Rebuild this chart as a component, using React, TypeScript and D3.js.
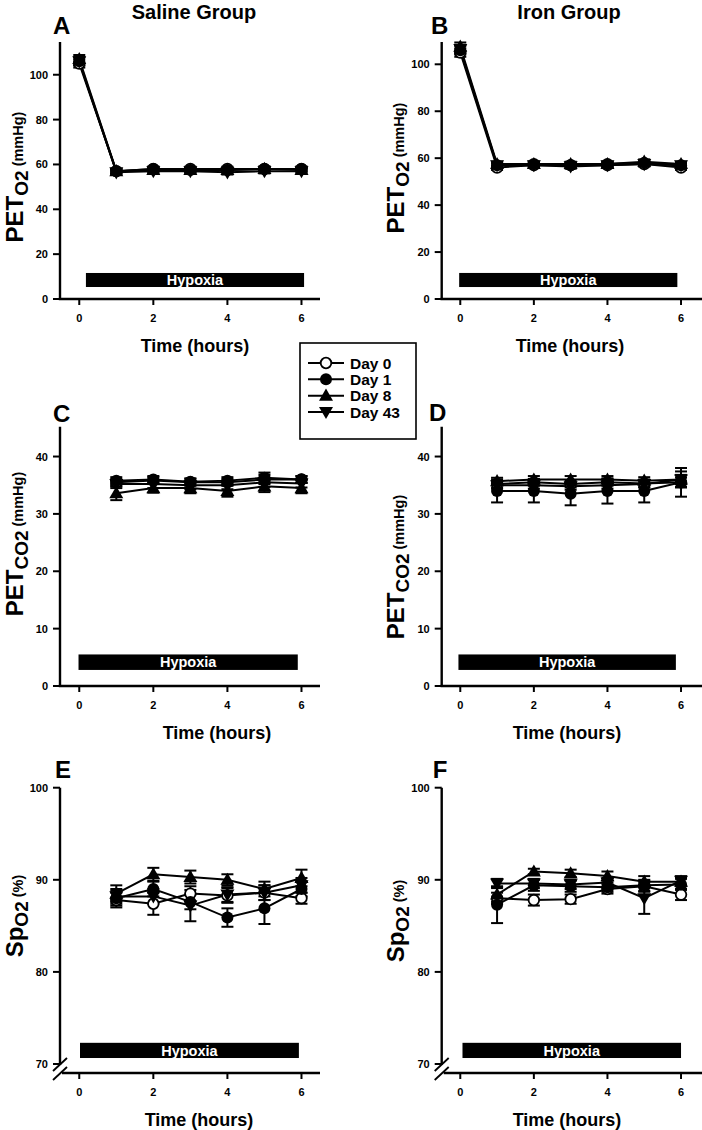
import React from 'react';
import * as d3 from 'd3';

// ---------- DATA ----------
const seriesNames = ['Day 0', 'Day 1', 'Day 8', 'Day 43'];
const timesBaseline = [0, 1, 2, 3, 4, 5, 6];
const timesHypoxia = [1, 2, 3, 4, 5, 6];
const xTicks = [0, 2, 4, 6];

// A: Saline PETO2
const salineO2Day0 = [105, 57, 58, 58, 58, 58, 58];
const salineO2Day1 = [106, 57, 58, 57.5, 57.5, 58, 58];
const salineO2Day8 = [107, 57, 57.5, 57.5, 57.5, 58, 57.5];
const salineO2Day43 = [106, 56.5, 57, 57, 56.5, 57, 57];
const salineO2Err = [1.8, 1, 1, 1, 1, 1, 1];

// B: Iron PETO2
const ironO2Day0 = [105, 56, 57, 57, 57, 57.5, 56];
const ironO2Day1 = [106, 57, 57.5, 57, 57.5, 58, 57];
const ironO2Day8 = [107.5, 57.5, 57.5, 57.5, 57.5, 58.5, 57.5];
const ironO2Day43 = [106.5, 57, 57, 56.5, 57, 57.5, 57];
const ironO2Err = [1.8, 1, 1, 1, 1, 1, 1];

// C: Saline PETCO2
const salineCO2Day0 = [35.5, 35.8, 35.5, 35.5, 36.0, 36.0];
const salineCO2Day1 = [35.8, 36.0, 35.6, 35.8, 36.3, 36.0];
const salineCO2Day8 = [33.6, 34.5, 34.5, 34.0, 34.8, 34.5];
const salineCO2Day43 = [35.2, 35.2, 35.0, 35.0, 35.5, 35.3];
const salineCO2Err0 = [0.6, 0.6, 0.6, 0.6, 0.8, 0.6];
const salineCO2Err1 = [0.6, 0.6, 0.6, 0.6, 0.9, 0.6];
const salineCO2Err8 = [1.2, 0.8, 0.9, 1.0, 1.0, 0.9];
const salineCO2Err43 = [0.7, 0.7, 0.7, 0.7, 0.8, 0.7];

// D: Iron PETCO2
const ironCO2Day0 = [35.2, 35.5, 35.2, 35.5, 35.3, 35.5];
const ironCO2Day1 = [34.0, 34.0, 33.5, 34.0, 34.0, 35.5];
const ironCO2Day8 = [35.7, 36.0, 36.0, 36.0, 35.8, 36.0];
const ironCO2Day43 = [35.0, 35.0, 34.8, 35.0, 35.2, 36.0];
const ironCO2Err0 = [0.6, 0.6, 0.6, 0.6, 0.6, 0.8];
const ironCO2Err1 = [2.0, 2.0, 2.0, 2.2, 2.0, 2.5];
const ironCO2Err8 = [0.6, 0.6, 0.6, 0.6, 0.6, 0.8];
const ironCO2Err43 = [0.6, 0.6, 0.6, 0.6, 0.6, 1.4];

// E: Saline SpO2
const salineSpDay0 = [87.8, 87.4, 88.5, 88.3, 88.6, 88.0];
const salineSpDay1 = [88.0, 89.0, 87.6, 85.9, 86.9, 89.0];
const salineSpDay8 = [88.5, 90.6, 90.3, 90.0, 89.0, 90.2];
const salineSpDay43 = [88.2, 88.2, 87.2, 88.4, 88.6, 89.4];
const salineSpErr0 = [0.8, 1.2, 0.8, 0.8, 0.8, 0.6];
const salineSpErr1 = [0.8, 0.8, 0.8, 1.0, 1.7, 0.8];
const salineSpErr8 = [0.9, 0.7, 0.7, 0.6, 0.8, 0.9];
const salineSpErr43 = [0.8, 0.8, 1.7, 0.8, 0.8, 0.8];

// F: Iron SpO2
const ironSpDay0 = [88.0, 87.8, 87.9, 89.0, 89.3, 88.4];
const ironSpDay1 = [87.3, 89.4, 89.3, 89.2, 89.4, 89.5];
const ironSpDay8 = [88.4, 90.9, 90.7, 90.4, 89.8, 89.8];
const ironSpDay43 = [89.6, 89.6, 89.5, 89.7, 88.0, 89.9];
const ironSpErr0 = [0.6, 0.6, 0.5, 0.5, 0.6, 0.6];
const ironSpErr1 = [2.0, 0.6, 0.6, 0.5, 0.6, 0.6];
const ironSpErr8 = [0.8, 0.3, 0.4, 0.5, 0.6, 0.5];
const ironSpErr43 = [0.5, 0.5, 0.5, 0.5, 1.7, 0.5];

const yTicksO2 = [0, 20, 40, 60, 80, 100];
const yTicksCO2 = [0, 10, 20, 30, 40];
const yTicksSp = [70, 80, 90, 100];

// ---------- LAYOUT ----------
const FONT = "'Liberation Sans', Arial, Helvetica, sans-serif";
const LEFT = { xDomain: [-0.52, 6.5], xRange: [60, 320], ylabX: 23 };
const RIGHT = { xDomain: [-0.505, 6.57], xRange: [441.7, 702], ylabX: 404 };

type Series = { values: number[]; err: number[] };

const panels = [
  {
    id: 'A', side: LEFT, title: 'Saline Group', titleX: 194,
    times: timesBaseline,
    series: [
      { values: salineO2Day0, err: salineO2Err },
      { values: salineO2Day1, err: salineO2Err },
      { values: salineO2Day8, err: salineO2Err },
      { values: salineO2Day43, err: salineO2Err },
    ],
    yDomain: [0, 114.6], yRange: [299, 42], yTicks: yTicksO2, xAxisY: 299,
    ylab: ['PET', 'O2', ' (mmHg)'], ylabY: 177, letterX: 53, letterY: 34, xlabX: 195,
    hyp: [0.18, 6.07, 5.35, 11.6], brk: false,
  },
  {
    id: 'B', side: RIGHT, title: 'Iron Group', titleX: 569,
    times: timesBaseline,
    series: [
      { values: ironO2Day0, err: ironO2Err },
      { values: ironO2Day1, err: ironO2Err },
      { values: ironO2Day8, err: ironO2Err },
      { values: ironO2Day43, err: ironO2Err },
    ],
    yDomain: [0, 109.5], yRange: [299, 42], yTicks: yTicksO2, xAxisY: 299,
    ylab: ['PET', 'O2', ' (mmHg)'], ylabY: 168, letterX: 431, letterY: 34, xlabX: 570,
    hyp: [-0.03, 5.9, 5.1, 11.1], brk: false,
  },
  {
    id: 'C', side: LEFT, title: '', titleX: 0,
    times: timesHypoxia,
    series: [
      { values: salineCO2Day0, err: salineCO2Err0 },
      { values: salineCO2Day1, err: salineCO2Err1 },
      { values: salineCO2Day8, err: salineCO2Err8 },
      { values: salineCO2Day43, err: salineCO2Err43 },
    ],
    yDomain: [0, 45.2], yRange: [686, 426.7], yTicks: yTicksCO2, xAxisY: 686,
    ylab: ['PET', 'CO2', ' (mmHg)'], ylabY: 544, letterX: 53, letterY: 422, xlabX: 217,
    hyp: [-0.02, 5.9, 2.8, 5.5], brk: false,
  },
  {
    id: 'D', side: RIGHT, title: '', titleX: 0,
    times: timesHypoxia,
    series: [
      { values: ironCO2Day0, err: ironCO2Err0 },
      { values: ironCO2Day1, err: ironCO2Err1 },
      { values: ironCO2Day8, err: ironCO2Err8 },
      { values: ironCO2Day43, err: ironCO2Err43 },
    ],
    yDomain: [0, 45.2], yRange: [686, 426.7], yTicks: yTicksCO2, xAxisY: 686,
    ylab: ['PET', 'CO2', ' (mmHg)'], ylabY: 567, letterX: 429, letterY: 421, xlabX: 567,
    hyp: [-0.05, 5.86, 2.8, 5.5], brk: false,
  },
  {
    id: 'E', side: LEFT, title: '', titleX: 0,
    times: timesHypoxia,
    series: [
      { values: salineSpDay0, err: salineSpErr0 },
      { values: salineSpDay1, err: salineSpErr1 },
      { values: salineSpDay8, err: salineSpErr8 },
      { values: salineSpDay43, err: salineSpErr43 },
    ],
    yDomain: [70, 100], yRange: [1064, 787.7], yTicks: yTicksSp, xAxisY: 1073,
    ylab: ['Sp', 'O2', ' (%)'], ylabY: 916, letterX: 55, letterY: 778, xlabX: 199,
    hyp: [0.02, 5.93, 70.65, 72.3], brk: true,
  },
  {
    id: 'F', side: RIGHT, title: '', titleX: 0,
    times: timesHypoxia,
    series: [
      { values: ironSpDay0, err: ironSpErr0 },
      { values: ironSpDay1, err: ironSpErr1 },
      { values: ironSpDay8, err: ironSpErr8 },
      { values: ironSpDay43, err: ironSpErr43 },
    ],
    yDomain: [70, 100], yRange: [1064, 787.7], yTicks: yTicksSp, xAxisY: 1073,
    ylab: ['Sp', 'O2', ' (%)'], ylabY: 921, letterX: 432.7, letterY: 778, xlabX: 567,
    hyp: [0.06, 6.0, 70.65, 72.3], brk: true,
  },
];

const triUp = d3.symbol().type(d3.symbolTriangle).size(85)() as string;

function Marker({ kind, cx, cy }: { kind: number; cx: number; cy: number }) {
  if (kind === 0) return <circle cx={cx} cy={cy} r={5.3} fill="#fff" stroke="#000" strokeWidth={1.8} />;
  if (kind === 1) return <circle cx={cx} cy={cy} r={6} fill="#000" />;
  if (kind === 2) return <path d={triUp} transform={`translate(${cx},${cy + 1})`} fill="#000" />;
  return <path d={triUp} transform={`translate(${cx},${cy - 1}) rotate(180)`} fill="#000" />;
}

function Panel({ p }: { p: any }) {
  const x = d3.scaleLinear().domain(p.side.xDomain).range(p.side.xRange);
  const y = d3.scaleLinear().domain(p.yDomain).range(p.yRange);
  const axisX = p.side.xRange[0];
  const line = d3.line<number>().x((_, i) => x(p.times[i])).y((v) => y(v));
  const yTop = y(p.yDomain[1]);
  const yBottom = p.brk ? y(p.yDomain[0]) + 1 : p.xAxisY;
  const xAxisStart = p.brk ? axisX + 2 : axisX - 1.2;
  const [h0, h1, hv0, hv1] = p.hyp;
  return (
    <g>
      {p.title && (
        <text x={p.titleX} y={19} textAnchor="middle" fontSize={20} fontWeight="bold" fontFamily={FONT}>{p.title}</text>
      )}
      <text x={p.letterX} y={p.letterY} fontSize={24} fontWeight="bold" fontFamily={FONT}>{p.id}</text>
      {/* hypoxia bar */}
      <rect x={x(h0)} y={y(hv1)} width={x(h1) - x(h0)} height={y(hv0) - y(hv1)} fill="#000" />
      <text x={(x(h0) + x(h1)) / 2} y={y(hv0) - 2.5} textAnchor="middle" fill="#fff" fontSize={14.5} fontWeight="bold" fontFamily={FONT}>Hypoxia</text>
      {/* axes */}
      <line x1={axisX} x2={axisX} y1={yTop} y2={yBottom} stroke="#000" strokeWidth={2.4} />
      <line x1={xAxisStart} x2={p.side.xRange[1]} y1={p.xAxisY} y2={p.xAxisY} stroke="#000" strokeWidth={2.4} />
      {p.brk && (
        <g stroke="#000" strokeWidth={1.8}>
          <line x1={axisX - 7} y1={1071} x2={axisX + 7} y2={1058} />
          <line x1={axisX - 7} y1={1080} x2={axisX + 7} y2={1067} />
        </g>
      )}
      {p.yTicks.map((t: number) => (
        <g key={t}>
          <line x1={axisX - 7} x2={axisX} y1={y(t)} y2={y(t)} stroke="#000" strokeWidth={2} />
          <text x={axisX - 12} y={y(t) + 4} textAnchor="end" fontSize={11} fontWeight="bold" fontFamily={FONT}>{t}</text>
        </g>
      ))}
      {xTicks.map((t) => (
        <g key={t}>
          <line x1={x(t)} x2={x(t)} y1={p.xAxisY} y2={p.xAxisY + 6} stroke="#000" strokeWidth={2} />
          <text x={x(t)} y={p.xAxisY + 23} textAnchor="middle" fontSize={11} fontWeight="bold" fontFamily={FONT}>{t}</text>
        </g>
      ))}
      <text x={p.xlabX} y={p.xAxisY + 53} textAnchor="middle" fontSize={18} fontWeight="bold" fontFamily={FONT}>Time (hours)</text>
      <text transform={`translate(${p.side.ylabX},${p.ylabY}) rotate(-90)`} textAnchor="middle" fontFamily={FONT} fontWeight="bold">
        <tspan fontSize={24}>{p.ylab[0]}</tspan>
        <tspan fontSize={19} dy={5}>{p.ylab[1]}</tspan>
        <tspan fontSize={14.5} dy={-5}>{p.ylab[2]}</tspan>
      </text>
      {/* data */}
      {p.series.map((s: Series, k: number) => (
        <path key={'l' + k} d={line(s.values) as string} fill="none" stroke="#000" strokeWidth={2} />
      ))}
      {p.series.map((s: Series, k: number) => (
        <g key={'e' + k} stroke="#000" strokeWidth={2}>
          {s.values.map((v, i) => {
            const cx = x(p.times[i]);
            const y1 = y(v - s.err[i]);
            const y2 = y(v + s.err[i]);
            return (
              <g key={i}>
                <line x1={cx} x2={cx} y1={y1} y2={y2} />
                <line x1={cx - 6} x2={cx + 6} y1={y1} y2={y1} />
                <line x1={cx - 6} x2={cx + 6} y1={y2} y2={y2} />
              </g>
            );
          })}
        </g>
      ))}
      {p.series.map((s: Series, k: number) => (
        <g key={'m' + k}>
          {s.values.map((v, i) => (
            <Marker key={i} kind={k} cx={x(p.times[i])} cy={y(v)} />
          ))}
        </g>
      ))}
    </g>
  );
}

function Legend() {
  const bx = 300, by = 343, bw = 116, bh = 96;
  const rowY = d3.scaleLinear().domain([0, 3]).range([363, 412]);
  return (
    <g>
      <rect x={bx} y={by} width={bw} height={bh} fill="#fff" stroke="#000" strokeWidth={1.6} />
      {seriesNames.map((n, k) => (
        <g key={n}>
          <line x1={308} x2={344} y1={rowY(k)} y2={rowY(k)} stroke="#000" strokeWidth={2} />
          <Marker kind={k} cx={326} cy={rowY(k)} />
          <text x={350} y={rowY(k) + 5.5} fontSize={15.5} fontWeight="bold" fontFamily={FONT}>{n}</text>
        </g>
      ))}
    </g>
  );
}

export default function App() {
  return (
    <svg width={702} height={1130} style={{ position: 'absolute', left: 0, top: 0, background: '#fff' }}>
      <rect width={702} height={1130} fill="#fff" />
      {panels.map((p) => (
        <Panel key={p.id} p={p} />
      ))}
      <Legend />
    </svg>
  );
}
